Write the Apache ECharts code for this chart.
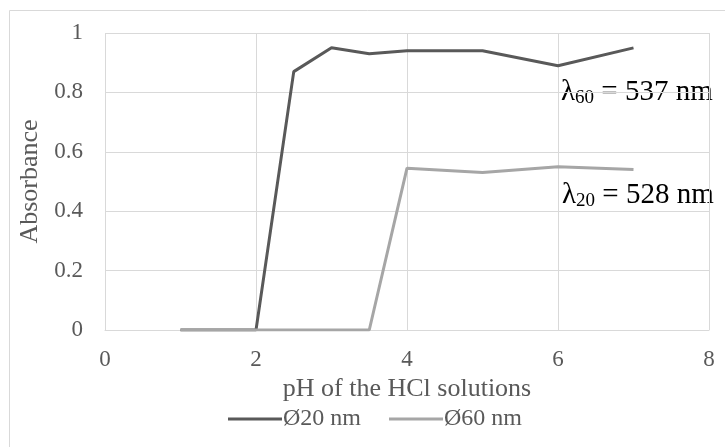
<!DOCTYPE html>
<html lang="en">
<head>
    <meta charset="UTF-8">
    <title>Absorbance vs pH</title>
    <script src="https://cdn.jsdelivr.net/npm/echarts@6/dist/echarts.min.js"></script>
    <style>
        html, body { margin: 0; padding: 0; background: #fff; }
    </style>
</head>
<body>
    <div id="graph" style="width: 725px; height: 447px;"></div>

    <script>
        // pH values and absorbance readings
        var ph = [1, 1.5, 2, 2.5, 3, 3.5, 4, 5, 6, 7];
        var abs20 = [0, 0, 0, 0.87, 0.95, 0.93, 0.94, 0.94, 0.89, 0.95];
        var abs60 = [0, 0, 0, 0, 0, 0, 0.545, 0.53, 0.55, 0.54];
        var xTicks = [0, 2, 4, 6, 8];
        var yTicks = [0, 0.2, 0.4, 0.6, 0.8, 1];

        function pairs(xs, ys) {
            var out = [];
            for (var i = 0; i < xs.length; i++) out.push([xs[i], ys[i]]);
            return out;
        }

        var font = '"Liberation Serif", "Times New Roman", serif';
        var grey = '#595959';
        var myChart = echarts.init(document.getElementById('graph'));
        var option = {
            animation: false,
            textStyle: { fontFamily: font },
            grid: { left: 105, right: 16, top: 33, bottom: 117 },
            legend: {
                top: 402,
                left: 223,
                icon: 'rect',
                itemWidth: 54,
                itemHeight: 3,
                itemGap: 28,
                textStyle: { fontFamily: font, fontSize: 24, color: grey, padding: [0, 0, 0, -4] },
                data: ['Ø20 nm', 'Ø60 nm']
            },
            xAxis: {
                type: 'value',
                min: xTicks[0],
                max: xTicks[xTicks.length - 1],
                interval: 2,
                name: 'pH of the HCl solutions',
                nameLocation: 'middle',
                nameGap: 44,
                nameTextStyle: { fontFamily: font, fontSize: 26, color: grey },
                axisLine: { show: true, lineStyle: { color: '#d9d9d9', width: 1 } },
                axisTick: { show: false },
                axisLabel: { fontFamily: font, fontSize: 23, color: grey, margin: 18 },
                splitLine: { show: true, lineStyle: { color: '#d9d9d9', width: 1 } }
            },
            yAxis: {
                type: 'value',
                min: yTicks[0],
                max: yTicks[yTicks.length - 1],
                interval: 0.2,
                name: 'Absorbance',
                nameLocation: 'middle',
                nameGap: 56,
                nameTextStyle: { fontFamily: font, fontSize: 26, color: grey },
                axisLine: { show: false },
                axisTick: { show: false },
                axisLabel: { fontFamily: font, fontSize: 23, color: grey, margin: 22 },
                splitLine: { show: true, lineStyle: { color: '#d9d9d9', width: 1 } }
            },
            series: [
                {
                    name: 'Ø20 nm',
                    type: 'line',
                    data: pairs(ph, abs20),
                    showSymbol: false,
                    color: grey,
                    lineStyle: { color: grey, width: 3 },
                    z: 3
                },
                {
                    name: 'Ø60 nm',
                    type: 'line',
                    data: pairs(ph, abs60),
                    showSymbol: false,
                    color: '#a6a6a6',
                    lineStyle: { color: '#a6a6a6', width: 3 },
                    z: 4
                }
            ],
            graphic: [
                {
                    type: 'rect',
                    shape: { x: 9.5, y: 10.5, width: 730, height: 450 },
                    style: { fill: 'none', stroke: '#d9d9d9', lineWidth: 1 },
                    silent: true
                },
                {
                    type: 'text',
                    left: 561,
                    top: 78,
                    style: {
                        text: '{l|λ}{s|60}{l| = 537 nm}',
                        rich: {
                            l: { fontFamily: font, fontSize: 29, fill: '#000' },
                            s: { fontFamily: font, fontSize: 19, fill: '#000', padding: [11, 0, 0, 0] }
                        }
                    }
                },
                {
                    type: 'text',
                    left: 562,
                    top: 181,
                    style: {
                        text: '{l|λ}{s|20}{l| = 528 nm}',
                        rich: {
                            l: { fontFamily: font, fontSize: 29, fill: '#000' },
                            s: { fontFamily: font, fontSize: 19, fill: '#000', padding: [11, 0, 0, 0] }
                        }
                    }
                }
            ]
        };
        myChart.setOption(option);
    </script>
</body>
</html>
